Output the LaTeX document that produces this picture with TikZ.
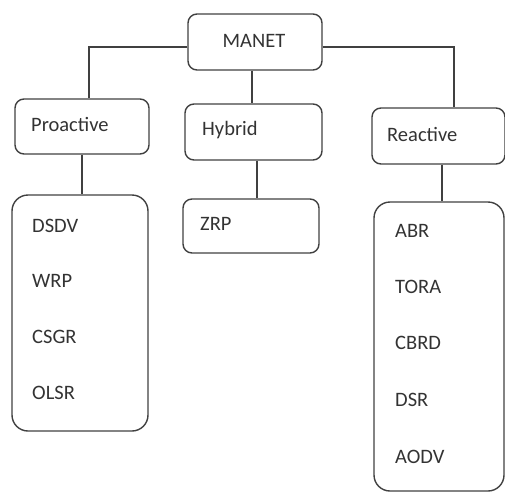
\documentclass[tikz,border=0pt]{standalone}
\usepackage{fontspec}
\setmainfont{Carlito}
\begin{document}
\begin{tikzpicture}[x=1pt,y=-1pt,
  box/.style={draw=black!75, line width=1.4pt, rounded corners=9pt, inner sep=0pt},
  bigbox/.style={box, rounded corners=16pt},
  lbl/.style={font=\fontsize{20.5}{24}\selectfont, text=black!80, inner sep=0pt},
  conn/.style={draw=black!75, line width=1.4pt}]
\useasboundingbox (0,0) rectangle (505,493);
% boxes
\node[box, minimum width=134pt, minimum height=56pt] (manet) at (255,42) {};
\node[box, minimum width=134pt, minimum height=55pt] (pro) at (82,126.5) {};
\node[box, minimum width=137pt, minimum height=56pt] (hyb) at (253.5,132) {};
\node[box, minimum width=133pt, minimum height=56pt] (react) at (438.5,136) {};
\node[bigbox, minimum width=136pt, minimum height=236pt] (prolist) at (80,313) {};
\node[box, minimum width=136pt, minimum height=54pt] (zrp) at (251,226) {};
\node[bigbox, minimum width=130pt, minimum height=289pt] (reactlist) at (439,346.5) {};
% labels
\node[lbl] (tmanet) at (254,41) {MANET};
\node[lbl, anchor=west] (tpro) at (31,124) {Proactive};
\node[lbl, anchor=west] (thyb) at (202,130) {Hybrid};
\node[lbl, anchor=west] (treact) at (387,134) {Reactive};
\node[lbl, anchor=west] (tdsdv) at (32,226) {DSDV};
\node[lbl, anchor=west] (twrp) at (32,281) {WRP};
\node[lbl, anchor=west] (tcsgr) at (32,337) {CSGR};
\node[lbl, anchor=west] (tolsr) at (32,393) {OLSR};
\node[lbl, anchor=west] (tzrp) at (200,224) {ZRP};
\node[lbl, anchor=west] (tabr) at (395,231) {ABR};
\node[lbl, anchor=west] (ttora) at (395,287) {TORA};
\node[lbl, anchor=west] (tcbrd) at (395,343) {CBRD};
\node[lbl, anchor=west] (tdsr) at (395,400) {DSR};
\node[lbl, anchor=west] (taodv) at (395,457) {AODV};
% connectors
\draw[conn] ([yshift=-5pt]manet.west) -| ([xshift=7pt]pro.north);
\draw[conn] ([yshift=-5pt]manet.east) -| ([xshift=15.5pt]react.north);
\draw[conn] ([xshift=-1.5pt]hyb.north |- manet.south) -- ([xshift=-1.5pt]hyb.north);
\draw[conn] (pro.south) -- (pro.south |- prolist.north);
\draw[conn] ([xshift=3.5pt]hyb.south) -- ([xshift=3.5pt]hyb.south |- zrp.north);
\draw[conn] ([xshift=3.5pt]react.south) -- ([xshift=3.5pt]react.south |- reactlist.north);
\end{tikzpicture}
\end{document}
